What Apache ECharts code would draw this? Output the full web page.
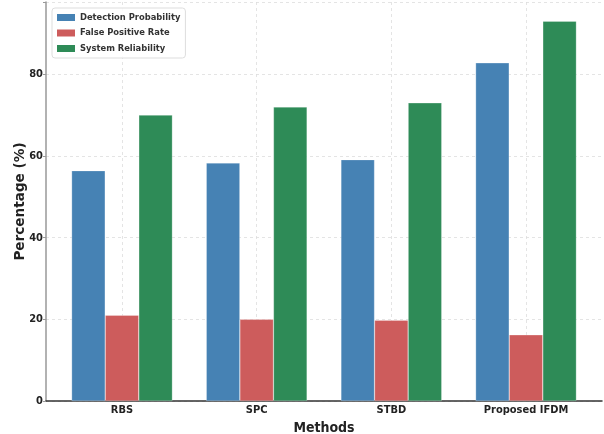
<!DOCTYPE html>
<html><head><meta charset="utf-8">
<script src="https://cdn.jsdelivr.net/npm/echarts@6/dist/echarts.min.js"></script>
<style>html,body{margin:0;padding:0;background:#fff}#c{width:604px;height:434px}</style>
</head><body><div id="c"></div>
<script>
const categories = ['RBS', 'SPC', 'STBD', 'Proposed IFDM'];
const detectionProbability = [56.4, 58.3, 59.1, 82.8];
const falsePositiveRate = [21.0, 20.0, 19.8, 16.2];
const systemReliability = [70.0, 72.0, 73.0, 93.0];
const yTicks = [0, 20, 40, 60, 80];

const font = '"DejaVu Sans Condensed", "DejaVu Sans", sans-serif';
const yMax = 97.7;
const chart = echarts.init(document.getElementById('c'), null, {renderer: 'canvas'});
const mk = (name, data, color) => ({
  name, type: 'bar', data, xAxisIndex: 1, yAxisIndex: 1,
  barWidth: 33.6, barGap: '0%', clip: false,
  itemStyle: {color, borderColor: 'rgba(255,255,255,0.5)', borderWidth: 0.5},
  emphasis: {disabled: true}
});
chart.setOption({
  animation: false,
  textStyle: {fontFamily: font},
  grid: [
    {left: 46, right: 2, top: 2, bottom: 33, outerBoundsMode: 'none', containLabel: false},
    {left: 122, width: 404, top: 2, bottom: 33, outerBoundsMode: 'none', containLabel: false}
  ],
  legend: {
    orient: 'vertical', left: 52, top: 8, icon: 'rect',
    itemWidth: 18, itemHeight: 7, itemGap: 6.5,
    padding: [5, 5, 5, 5],
    borderColor: '#ddd', borderWidth: 1, borderRadius: 3,
    backgroundColor: 'rgba(255,255,255,0.85)',
    textStyle: {fontFamily: font, fontWeight: 'bold', fontSize: 9.3, color: '#333'},
    itemStyle: {borderWidth: 0},
    data: ['Detection Probability', 'False Positive Rate', 'System Reliability']
  },
  xAxis: [
    {type: 'value', gridIndex: 0, min: 0, max: 1, show: true,
     axisLine: {show: true, lineStyle: {color: '#333', width: 1.5}},
     axisTick: {show: false}, axisLabel: {show: false}, splitLine: {show: false}},
    {type: 'category', gridIndex: 1, data: categories, boundaryGap: false,
     name: 'Methods', nameLocation: 'middle', nameGap: 20,
     nameTextStyle: {fontFamily: font, fontWeight: 'bold', fontSize: 14, color: '#222'},
     axisLine: {show: false}, axisTick: {show: false},
     axisLabel: {fontFamily: font, fontWeight: 'bold', fontSize: 11, color: '#222', margin: 4},
     splitLine: {show: true, lineStyle: {color: '#ddd', type: [3, 3], width: 0.8}}}
  ],
  yAxis: [
    {type: 'value', gridIndex: 0, min: 0, max: yMax, interval: 20,
     name: 'Percentage (%)', nameLocation: 'middle', nameGap: 19, nameMoveOverlap: false,
     nameTextStyle: {fontFamily: '"DejaVu Sans", sans-serif', fontWeight: 'bold', fontSize: 13.6, color: '#222'},
     axisLine: {show: true, lineStyle: {color: '#999', width: 1.5}},
     axisTick: {show: true, length: 3, lineStyle: {color: '#999'}},
     axisLabel: {fontFamily: font, fontWeight: 'bold', fontSize: 11, color: '#222', margin: 3,
       formatter: v => yTicks.includes(v) ? String(v) : ''},
     splitLine: {show: true, lineStyle: {color: '#ddd', type: [3, 3], width: 0.8}}},
    {type: 'value', gridIndex: 1, min: 0, max: yMax, show: false, splitLine: {show: false}}
  ],
  series: [
    mk('Detection Probability', detectionProbability, '#4682B4'),
    mk('False Positive Rate', falsePositiveRate, '#CD5C5C'),
    mk('System Reliability', systemReliability, '#2E8B57')
  ]
});
</script></body></html>
